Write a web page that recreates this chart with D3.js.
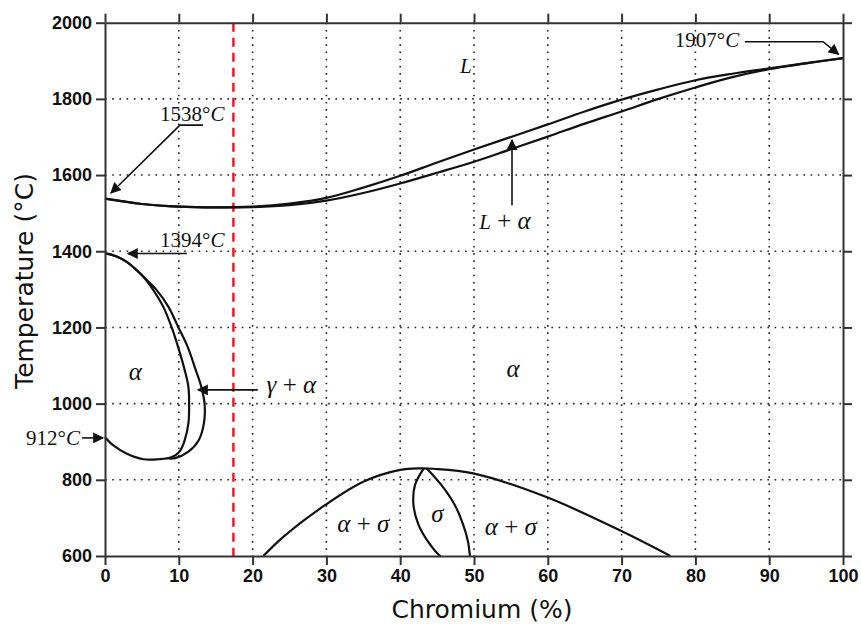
<!DOCTYPE html>
<html>
<head>
<meta charset="utf-8">
<script src="https://cdn.jsdelivr.net/npm/d3@7"></script>
<style>
  body { margin: 0; background: #fff; }
  svg { display: block; }
  .axis path, .axis line { stroke: #333; stroke-width: 2; }
  .axis text { font-family: "Liberation Sans", Arial, sans-serif; font-weight: bold; font-size: 18px; fill: #111; }
  .note { font-family: "Liberation Serif", "DejaVu Serif", serif; font-size: 21px; fill: #111; }
</style>
</head>
<body>
<div id="chart"></div>
<script>
// Liquidus / solidus (Cr %, °C)
const meltCr      = [0, 5, 10, 15, 20, 25, 30, 35, 40, 45, 50, 55, 60, 65, 70, 75, 80, 85, 90, 95, 100];
const liquidusT   = [1538, 1524, 1517, 1515, 1517, 1525, 1540, 1567, 1598, 1633, 1667, 1700, 1733, 1767, 1798, 1825, 1849, 1866, 1880, 1894, 1907];
const solidusT    = [1538, 1524, 1517, 1515, 1516, 1521, 1533, 1553, 1578, 1606, 1635, 1668, 1701, 1735, 1767, 1800, 1830, 1857, 1878, 1893, 1907];

// gamma loop, inner boundary (from 912 round to 1394)
const innerCr = [0, 1.1, 2.9, 5.2, 7.2, 9.0, 10.1, 10.8, 11.3, 11.4, 11.3, 10.8, 9.9, 9.0, 7.9, 6.55, 5.2, 4.3, 2.94, 1.58, 0.23, 0];
const innerT  = [912, 891, 869, 854, 854, 859, 874, 904, 948, 998, 1044, 1088, 1149, 1202, 1254, 1298, 1333, 1350, 1372, 1386, 1394, 1394];
// gamma loop, outer boundary
const outerCr = [0, 0.23, 1.58, 2.94, 4.3, 5.2, 7.0, 8.6, 9.9, 11.2, 12.3, 13.05, 13.5, 13.4, 12.7, 11.3, 9.5, 8.6];
const outerT  = [1394, 1394, 1386, 1372, 1350, 1333, 1298, 1254, 1202, 1149, 1088, 1044, 998, 948, 904, 874, 857, 856];

// sigma dome and sigma phase boundaries
const domeCr  = [21.45, 24.2, 29.85, 35.0, 40.0, 42.7, 44.5, 49.9, 59.9, 69.9, 76.6];
const domeT   = [600, 651, 734, 795, 826, 830, 829, 817, 754, 666, 600];
const sigLCr  = [43.2, 42.0, 41.8, 42.5, 43.8, 45.3, 45.5];
const sigLT   = [830, 786, 734, 681, 637, 602, 600];
const sigRCr  = [43.6, 45.6, 47.4, 48.55, 49.2, 49.45, 49.5];
const sigRT   = [830, 786, 734, 681, 637, 602, 600];

const alloyCr = 17.4; // red dashed composition line

const xTicks = [0, 10, 20, 30, 40, 50, 60, 70, 80, 90, 100];
const yTicks = [600, 800, 1000, 1200, 1400, 1600, 1800, 2000];

// annotations: [text, Cr, T, anchor]
const noteText   = ["1538°C", "1394°C", "912°C", "γ + α", "α", "α", "L", "L + α", "1907°C", "α + σ", "σ", "α + σ"];
const noteCr     = [7.45, 7.45, -10.7, 21.9, 4.1, 55.3, 48.9, 54.2, 77.2, 35.0, 45.05, 55.0];
const noteT      = [1741, 1411, 891, 1028, 1062, 1070, 1867, 1458, 1936, 663, 689, 655];
const noteAnchor = ["start", "start", "start", "start", "middle", "middle", "middle", "middle", "start", "middle", "middle", "middle"];

// arrows: list of [Cr, T] points, last one gets the arrow head
const arrows = [
  [[13.28, 1731], [10.16, 1731], [0.81, 1553]],
  [[11.1, 1394], [3.1, 1394]],
  [[-3.1, 910], [-0.27, 910]],
  [[20.7, 1036], [12.6, 1036]],
  [[55.15, 1521], [55.15, 1692]],
  [[86.7, 1950], [97.3, 1950], [99.4, 1917]]
];

const width = 861, height = 624;
const margin = {top: 22.7, right: 18, bottom: 68, left: 105};

const svg = d3.select("#chart").append("svg")
  .attr("width", width)
  .attr("height", height);

const x = d3.scaleLinear().domain([0, 100]).range([margin.left, width - margin.right]);
const y = d3.scaleLinear().domain([600, 2000]).range([height - margin.bottom, margin.top]);

// dotted grid
const grid = svg.append("g").attr("stroke", "#222").attr("stroke-width", 1.6).attr("stroke-dasharray", "1.6,5.6");
grid.selectAll(".vg").data(xTicks.slice(1, -1)).enter().append("line")
  .attr("x1", d => x(d)).attr("x2", d => x(d))
  .attr("y1", y(2000)).attr("y2", y(600));
grid.selectAll(".hg").data(yTicks.slice(1, -1)).enter().append("line")
  .attr("y1", d => y(d)).attr("y2", d => y(d))
  .attr("x1", x(0)).attr("x2", x(100));

// red composition line
svg.append("line")
  .attr("x1", x(alloyCr)).attr("x2", x(alloyCr))
  .attr("y1", y(2000)).attr("y2", y(600))
  .attr("stroke", "#e8161e").attr("stroke-width", 2.4)
  .attr("stroke-dasharray", "9,6");

// phase boundaries
const line = d3.line().x(d => x(d[0])).y(d => y(d[1])).curve(d3.curveCatmullRom.alpha(0.5));
const curves = [
  d3.zip(meltCr, liquidusT),
  d3.zip(meltCr, solidusT),
  d3.zip(innerCr, innerT),
  d3.zip(outerCr, outerT),
  d3.zip(domeCr, domeT),
  d3.zip(sigLCr, sigLT),
  d3.zip(sigRCr, sigRT)
];
svg.append("g").selectAll("path").data(curves).enter().append("path")
  .attr("d", line)
  .attr("fill", "none")
  .attr("stroke", "#111")
  .attr("stroke-width", 2.2);

// axes on all four sides, ticks outward
const axisStyle = a => a.tickSizeInner(9).tickSizeOuter(0).tickPadding(4);
svg.append("g").attr("class", "axis")
  .attr("transform", `translate(0,${y(600)})`)
  .call(axisStyle(d3.axisBottom(x).tickValues(xTicks).tickFormat(d3.format("d"))));
svg.append("g").attr("class", "axis")
  .attr("transform", `translate(${x(0)},0)`)
  .call(axisStyle(d3.axisLeft(y).tickValues(yTicks).tickFormat(d3.format("d"))));
svg.append("g").attr("class", "axis")
  .attr("transform", `translate(0,${y(2000)})`)
  .call(axisStyle(d3.axisTop(x).tickValues(xTicks).tickFormat("")));
svg.append("g").attr("class", "axis")
  .attr("transform", `translate(${x(100)},0)`)
  .call(axisStyle(d3.axisRight(y).tickValues(yTicks).tickFormat("")));

// axis titles
svg.append("text")
  .attr("x", 482).attr("y", 618)
  .attr("text-anchor", "middle")
  .style("font-family", "'DejaVu Sans', Verdana, sans-serif")
  .style("font-size", "25px")
  .attr("fill", "#111")
  .text("Chromium (%)");
svg.append("text")
  .attr("transform", "translate(33,281) rotate(-90)")
  .attr("text-anchor", "middle")
  .style("font-family", "'DejaVu Sans', Verdana, sans-serif")
  .style("font-size", "25px")
  .attr("fill", "#111")
  .text("Temperature (°C)");

// arrow marker
svg.append("defs").append("marker")
  .attr("id", "head")
  .attr("viewBox", "0 0 10 10")
  .attr("refX", 9).attr("refY", 5)
  .attr("markerWidth", 11).attr("markerHeight", 11)
  .attr("markerUnits", "userSpaceOnUse")
  .attr("orient", "auto")
  .append("path").attr("d", "M0,0L10,5L0,10Z").attr("fill", "#111");

const straight = d3.line().x(d => x(d[0])).y(d => y(d[1]));
svg.append("g").selectAll("path").data(arrows).enter().append("path")
  .attr("d", straight)
  .attr("fill", "none")
  .attr("stroke", "#111")
  .attr("stroke-width", 1.6)
  .attr("marker-end", "url(#head)");

// annotation labels, letters in italic like math text, greek drawn larger
const notes = svg.append("g").selectAll("text").data(noteText).enter().append("text")
  .attr("class", "note")
  .attr("x", (d, i) => x(noteCr[i]))
  .attr("y", (d, i) => y(noteT[i]))
  .attr("text-anchor", (d, i) => noteAnchor[i]);
notes.each(function(d) {
  const t = d3.select(this);
  d.split(/([A-Za-zα-ω]|\s\+\s)/).filter(s => s.length).forEach(s => {
    const greek = /[α-ω]/.test(s);
    const plus = /\+/.test(s);
    t.append("tspan")
      .style("font-style", /[A-Za-zα-ω]/.test(s) ? "italic" : "normal")
      .style("font-size", greek ? "25px" : plus ? "25px" : null)
      .text(s);
  });
});
</script>
</body>
</html>
